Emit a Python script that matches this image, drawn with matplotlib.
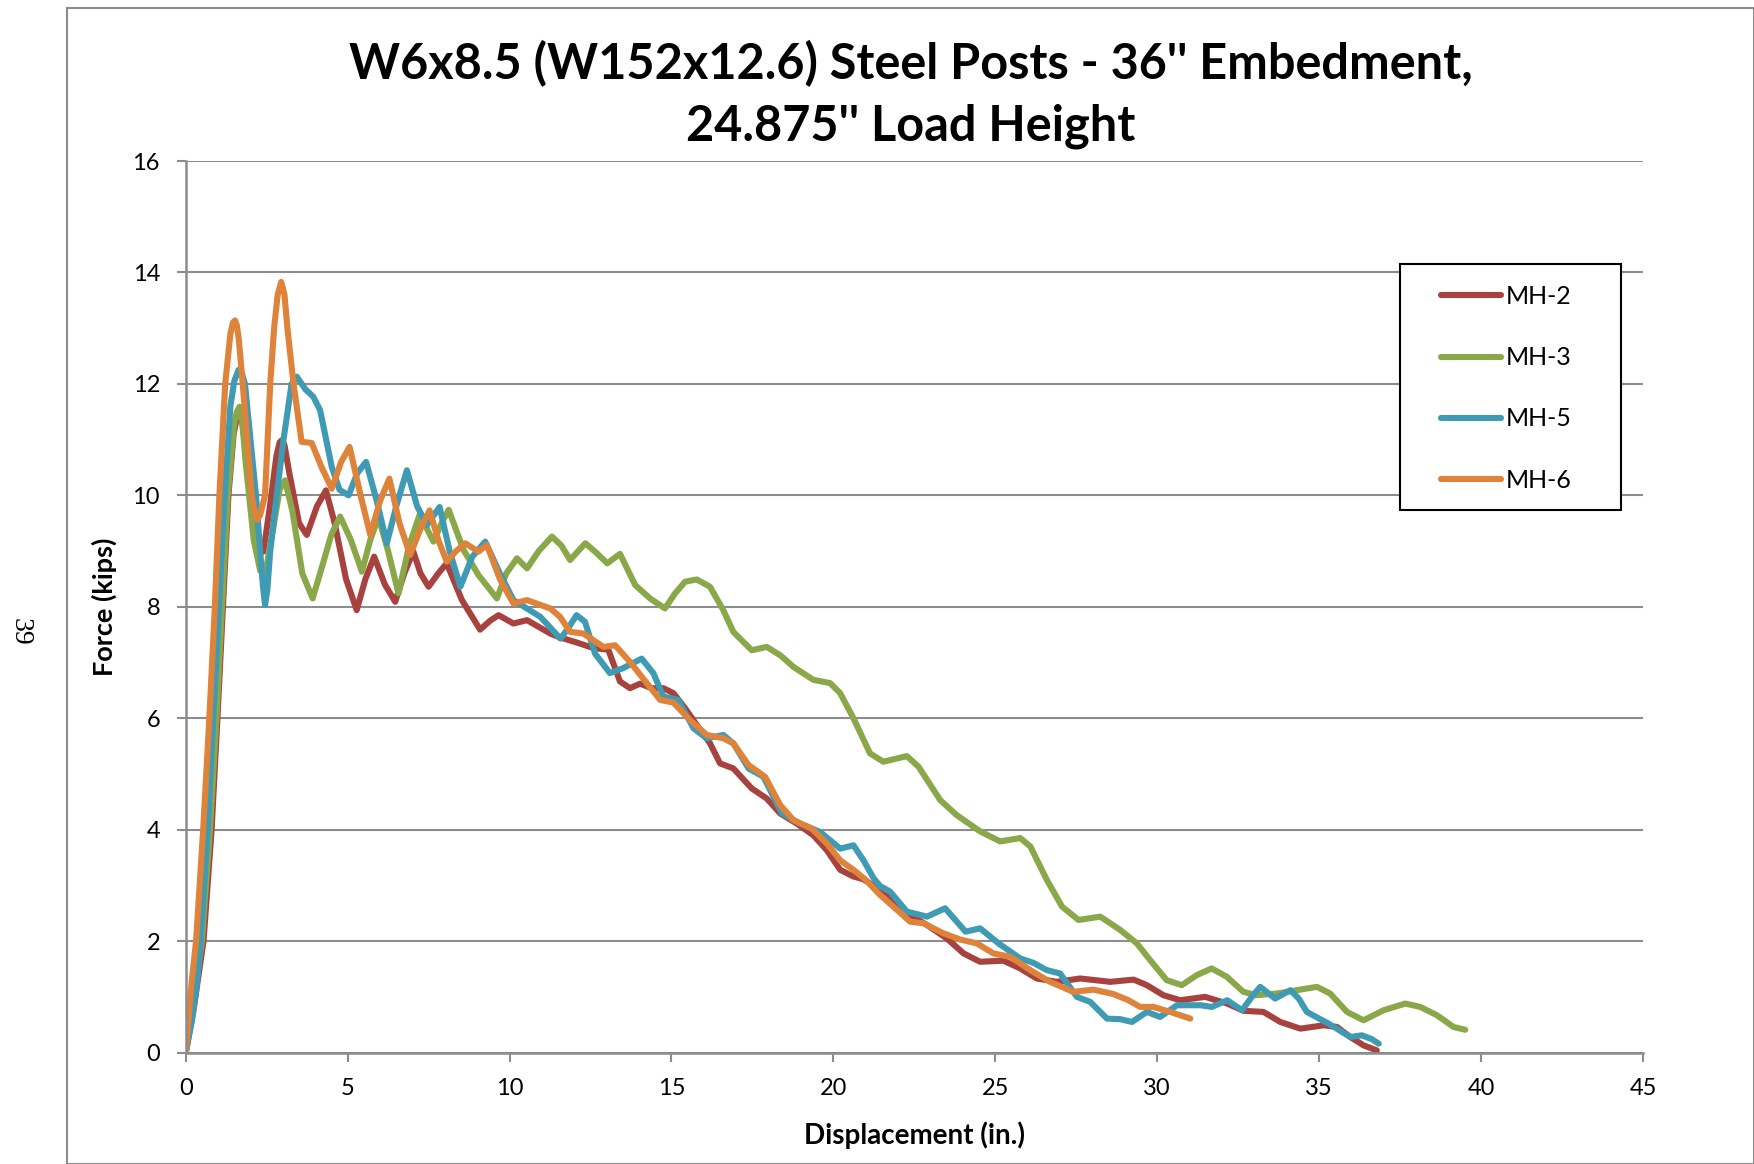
import matplotlib
matplotlib.use("Agg")
import matplotlib.pyplot as plt
from matplotlib.patches import Rectangle

plt.rcParams['font.family'] = ['Lato', 'DejaVu Sans']

# displacement (in.) and force (kips)
mh2_x = [0, 0.25, 0.55, 0.8, 0.98, 1.15, 1.32, 1.48, 1.58, 1.66, 1.75, 1.85, 2.1, 2.25, 2.40, 2.6, 2.8, 2.9, 2.97,
         3.05, 3.2, 3.5, 3.74, 4.05, 4.33, 4.6, 4.95, 5.28, 5.55, 5.82, 6.15, 6.47, 6.75, 7.03, 7.25, 7.50, 7.8,
         8.06, 8.53, 9.09, 9.4, 9.66, 10.12, 10.54, 11.26, 11.56, 12.07, 12.59, 13.05, 13.41, 13.72, 14.03,
         14.39, 14.75, 15.06, 15.42, 15.78, 16.19, 16.50, 16.91, 17.48, 17.94, 18.36, 18.87, 19.38, 19.80,
         20.21, 20.62, 20.93, 21.44, 22.27, 22.89, 23.50, 24.02, 24.53, 25.25, 25.77, 26.28, 26.90, 27.62,
         28.55, 29.27, 29.68, 30.19, 30.71, 31.48, 32.16, 32.66, 33.28, 33.80, 34.42, 35.14, 35.55, 35.96,
         36.37, 36.78]
mh2_y = [0, 0.8, 2, 4, 6, 8, 10, 11.1, 11.4, 11.47, 11.3, 10.8, 9.6, 9.1, 8.99, 9.8, 10.7, 10.95, 10.99,
         10.9, 10.4, 9.5, 9.29, 9.8, 10.09, 9.5, 8.5, 7.94, 8.5, 8.90, 8.4, 8.09, 8.6, 8.99, 8.6, 8.36, 8.6,
         8.78, 8.12, 7.59, 7.75, 7.85, 7.70, 7.76, 7.52, 7.45, 7.36, 7.26, 7.23, 6.66, 6.54, 6.62,
         6.54, 6.54, 6.45, 6.18, 5.88, 5.55, 5.19, 5.10, 4.74, 4.56, 4.29, 4.11, 3.90, 3.63,
         3.28, 3.16, 3.11, 2.92, 2.50, 2.29, 2.05, 1.78, 1.63, 1.65, 1.51, 1.33, 1.27, 1.33,
         1.27, 1.31, 1.21, 1.03, 0.94, 1.00, 0.88, 0.75, 0.73, 0.55, 0.43, 0.49, 0.46, 0.28,
         0.13, 0.04]

mh3_x = [0, 0.22, 0.5, 0.75, 0.95, 1.12, 1.3, 1.5, 1.58, 1.66, 1.75, 1.85, 2.1, 2.3, 2.45, 2.7, 2.9, 3.07, 3.3,
         3.6, 3.92, 4.2, 4.5, 4.77, 5.1, 5.44, 5.7, 5.95, 6.25, 6.57, 6.9, 7.24, 7.45, 7.65, 7.9, 8.12, 8.58,
         9.04, 9.61, 9.9, 10.23, 10.54, 10.9, 11.31, 11.6, 11.87, 12.34, 12.64, 13.02, 13.41, 13.88, 14.34,
         14.80, 15.11, 15.42, 15.78, 16.19, 16.60, 16.91, 17.48, 17.94, 18.36, 18.77, 19.38, 19.90, 20.21,
         20.62, 21.13, 21.54, 22.27, 22.63, 23.30, 23.81, 24.53, 25.15, 25.77, 26.08, 26.59, 27.06, 27.57,
         28.24, 28.86, 29.37, 29.78, 30.29, 30.76, 31.22, 31.68, 32.15, 32.66, 33.07, 33.69, 34.31, 34.93,
         35.34, 35.86, 36.37, 36.99, 37.66, 38.12, 38.64, 39.15, 39.51]
mh3_y = [0, 0.8, 2, 4, 6, 8, 10, 11.3, 11.5, 11.59, 11.3, 10.6, 9.2, 8.65, 8.57, 9.4, 10.1, 10.27, 9.7,
         8.6, 8.15, 8.7, 9.3, 9.62, 9.2, 8.63, 9.2, 9.61, 9.0, 8.24, 9.1, 9.68, 9.4, 9.17, 9.5, 9.74, 9.02,
         8.57, 8.15, 8.6, 8.87, 8.69, 9.0, 9.26, 9.1, 8.84, 9.14, 8.99, 8.78, 8.95, 8.39, 8.15,
         7.97, 8.24, 8.45, 8.49, 8.36, 7.94, 7.55, 7.22, 7.28, 7.13, 6.92, 6.69, 6.63, 6.45,
         6.00, 5.37, 5.22, 5.32, 5.13, 4.53, 4.26, 3.97, 3.79, 3.85, 3.70, 3.10, 2.62, 2.38,
         2.44, 2.20, 1.96, 1.66, 1.30, 1.21, 1.39, 1.51, 1.36, 1.09, 1.03, 1.06, 1.12, 1.18,
         1.06, 0.73, 0.58, 0.76, 0.88, 0.82, 0.67, 0.46, 0.41]

mh5_x = [0, 0.2, 0.34, 0.46, 0.68, 0.85, 1.03, 1.2, 1.38, 1.5, 1.63, 1.73, 1.83, 2.0, 2.17, 2.30, 2.38, 2.45,
         2.52, 2.61, 2.81, 3.02, 3.27, 3.43, 3.7, 3.94, 4.15, 4.51, 4.75, 5.03, 5.3, 5.57, 5.9, 6.21, 6.5,
         6.83, 7.15, 7.45, 7.84, 8.15, 8.48, 8.85, 9.25, 9.7, 10.12, 10.95, 11.57, 11.77, 12.07, 12.33, 12.64,
         13.10, 13.51, 14.08, 14.44, 14.75, 15.21, 15.68, 16.09, 16.60, 16.91, 17.38, 17.84, 18.41, 18.97,
         19.59, 20.21, 20.62, 20.93, 21.24, 21.44, 21.75, 22.27, 22.89, 23.45, 24.08, 24.53, 25.10, 25.77,
         26.18, 26.59, 27.00, 27.52, 27.93, 28.45, 28.86, 29.22, 29.68, 30.09, 30.61, 31.33, 31.69, 32.16,
         32.62, 32.92, 33.18, 33.64, 34.11, 34.37, 34.62, 35.29, 35.96, 36.32, 36.63, 36.84]
mh5_y = [0, 0.6, 1.2, 2, 4, 6, 8, 10, 11.6, 12.05, 12.25, 12.2, 12.0, 11.0, 10.0, 9.0, 8.4, 8.03,
         8.3, 9.0, 10.0, 11.0, 12.0, 12.13, 11.9, 11.77, 11.53, 10.51, 10.1, 10.0, 10.4, 10.6, 9.9, 9.14, 9.8,
         10.45, 9.8, 9.47, 9.79, 9.0, 8.36, 8.9, 9.17, 8.6, 8.12, 7.82, 7.43, 7.58, 7.85, 7.73, 7.16,
         6.81, 6.90, 7.07, 6.81, 6.39, 6.33, 5.82, 5.64, 5.70, 5.55, 5.10, 4.95, 4.29, 4.11,
         3.96, 3.66, 3.72, 3.45, 3.13, 2.99, 2.89, 2.53, 2.44, 2.59, 2.17, 2.23, 1.96, 1.69,
         1.61, 1.48, 1.42, 1.00, 0.91, 0.61, 0.60, 0.55, 0.73, 0.64, 0.85, 0.85, 0.82, 0.94,
         0.76, 1.00, 1.18, 0.97, 1.12, 0.97, 0.73, 0.52, 0.28, 0.31, 0.24, 0.16]

mh6_x = [0, 0.18, 0.32, 0.54, 0.73, 0.9, 1.04, 1.22, 1.38, 1.46, 1.52, 1.58, 1.64, 1.76, 2.04, 2.13, 2.21, 2.3,
         2.45, 2.61, 2.73, 2.84, 2.95, 3.05, 3.14, 3.33, 3.58, 3.89, 4.2, 4.51, 4.8, 5.06, 5.4, 5.70, 6.0, 6.29,
         6.6, 6.93, 7.25, 7.53, 7.8, 8.06, 8.35, 8.63, 9.04, 9.30, 9.7, 10.12, 10.54, 11.26, 11.56, 11.87,
         12.28, 12.90, 13.26, 13.72, 14.13, 14.65, 15.06, 15.57, 16.09, 16.60, 16.91, 17.38, 17.89, 18.36,
         18.77, 19.33, 19.80, 20.21, 20.62, 20.98, 21.44, 21.85, 22.37, 22.78, 23.40, 23.91, 24.43, 24.94,
         25.46, 26.08, 26.69, 27.41, 28.03, 28.65, 29.11, 29.47, 29.88, 30.40, 31.02]
mh6_y = [0, 1.24, 2, 4, 6, 8, 10, 12, 12.9, 13.1, 13.14, 13.05, 12.8, 12.0, 10.0, 9.7, 9.56, 9.65,
         10.0, 12.0, 13.0, 13.6, 13.83, 13.6, 13.0, 12.0, 10.96, 10.94, 10.5, 10.12, 10.6, 10.87, 10.0, 9.29, 9.9, 10.30,
         9.5, 8.93, 9.4, 9.73, 9.2, 8.81, 9.0, 9.14, 8.99, 9.11, 8.5, 8.06, 8.12, 7.97, 7.82, 7.55,
         7.52, 7.28, 7.31, 7.01, 6.71, 6.33, 6.28, 5.97, 5.70, 5.64, 5.55, 5.16, 4.95, 4.44,
         4.17, 4.02, 3.75, 3.45, 3.28, 3.11, 2.83, 2.62, 2.35, 2.32, 2.14, 2.03, 1.96, 1.78,
         1.72, 1.48, 1.27, 1.09, 1.13, 1.05, 0.94, 0.82, 0.82, 0.73, 0.61]

series = [
    ("MH-2", mh2_x, mh2_y, "#a8423f"),
    ("MH-3", mh3_x, mh3_y, "#8aa84a"),
    ("MH-5", mh5_x, mh5_y, "#3f9ab4"),
    ("MH-6", mh6_x, mh6_y, "#df833a"),
]

W, H = 1754, 1164
fig = plt.figure(figsize=(W / 100, H / 100), dpi=100)

# outer chart frame
fig.patches.append(Rectangle((67 / W, 0), 1 - 67 / W, 1 - 8 / H, transform=fig.transFigure,
                             fill=False, edgecolor="#8c8c8c", linewidth=1.5))

ax = fig.add_axes([185.7 / W, 1 - 1052.6 / H, (1643 - 185.7) / W, (1052.6 - 161) / H])

for name, xs, ys, c in series:
    ax.plot(xs, ys, color=c, linewidth=4.4, label=name, solid_capstyle="round",
            solid_joinstyle="round")

ax.set_xlim(0, 45)
ax.set_ylim(0, 16)
ax.set_xticks(range(0, 46, 5))
ax.set_yticks(range(0, 17, 2))
ax.grid(axis="y", color="#8c8c8c", linewidth=1.5)
ax.set_axisbelow(True)
for s in ["top", "right"]:
    ax.spines[s].set_visible(False)
for s in ["left", "bottom"]:
    ax.spines[s].set_color("#8c8c8c")
    ax.spines[s].set_linewidth(1.8)
ax.tick_params(direction="out", length=6.5, width=1.5, color="#8c8c8c",
               labelsize=17, pad=12)

fig.text(911 / W, 1 - 64 / H, "W6x8.5 (W152x12.6) Steel Posts - 36'' Embedment,",
         ha="center", va="center", fontsize=35, fontweight="bold")
fig.text(911 / W, 1 - 126 / H, "24.875'' Load Height",
         ha="center", va="center", fontsize=35, fontweight="bold")
fig.text(914 / W, 1 - 1135 / H, "Displacement (in.)", ha="center", va="center",
         fontsize=20, fontweight="bold")
fig.text(104 / W, 1 - 607 / H, "Force (kips)", ha="center", va="center",
         rotation=90, fontsize=19.5, fontweight="bold")
fig.text(20 / W, 1 - 632 / H, "39", ha="center", va="center", rotation=-90,
         fontsize=20, family="Liberation Serif")

# legend box
fig.patches.append(Rectangle((1400 / W, 1 - 510 / H), 221 / W, 246 / H, transform=fig.transFigure,
                             facecolor="white", edgecolor="black", linewidth=1.5, zorder=5))
leg = fig.legend(loc="upper left", bbox_to_anchor=(1441 / W, 1 - 285 / H), frameon=False,
                 fontsize=18, handlelength=2.4, handletextpad=0.2, labelspacing=1.53,
                 borderpad=0, borderaxespad=0)
leg.set_zorder(6)

fig.savefig("out.png", dpi=100)
